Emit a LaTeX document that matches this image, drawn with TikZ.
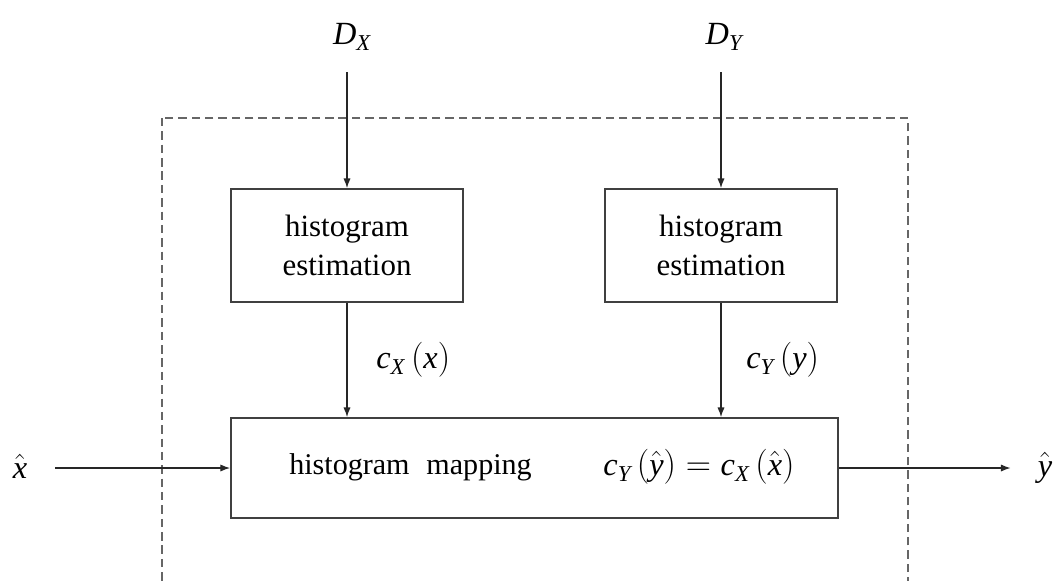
\documentclass[tikz,border=0pt]{standalone}
\usepackage{fontspec}
\setmainfont{Liberation Serif}
\usetikzlibrary{arrows.meta,positioning,calc}
\tikzset{
  block/.style={rectangle, draw=black!75, line width=1.3pt, align=center,
    font=\fontsize{22}{28}\selectfont, inner sep=0pt},
  estbox/.style={block, minimum width=5.8cm, minimum height=2.825cm},
  lbl/.style={font=\fontsize{23}{28}\selectfont, inner sep=0pt},
  sig/.style={-{Latex[length=2.4mm,width=1.8mm]}, line width=0.8pt, draw=black!85},
  frame/.style={dash pattern=on 6pt off 3.5pt, line width=1.3pt, draw=black!60},
}
\newcommand{\itl}[1]{\mathit{#1}}

\begin{document}
\begin{tikzpicture}[x=0.025cm, y=-0.025cm]
  \useasboundingbox (0,0) rectangle (1057,580);
  \draw[frame] (162,118) rectangle (908,620);
  \node[estbox] (estx) at (347,245.5) {histogram\\estimation};
  \node[estbox] (esty) at (721,245.5) {histogram\\estimation};
  \node[block, minimum width=15.175cm, minimum height=2.5cm] (map) at (534.5,468) {};
  \node[lbl, font=\fontsize{21.4}{26}\selectfont] (maptxt) at (410.5,467)
    {histogram\hspace{0.42cm}mapping};
  \node[lbl] (mapeq) at (699,467)
    {$\itl{c}_{\itl{Y}}\,(\hat{\itl{y}})=\itl{c}_{\itl{X}}\,(\hat{\itl{x}})$};
  \node[lbl] (dx) at (352,37) {$\itl{D}_{\itl{X}}$};
  \node[lbl] (dy) at (724,37) {$\itl{D}_{\itl{Y}}$};
  \node[lbl] (xin) at (20,466) {$\hat{\itl{x}}$};
  \node[lbl] (yout) at (1045,468) {$\hat{\itl{y}}$};
  % inputs from above
  \draw[sig] (estx.north |- dx.south) ++(0,22) -- (estx.north);
  \draw[sig] (esty.north |- dy.south) ++(0,22) -- (esty.north);
  % cumulative histograms
  \draw[sig] (estx.south) -- (estx.south |- map.north)
    node[lbl, midway, right=0.72cm] (cx) {$\itl{c}_{\itl{X}}\,(\itl{x})$};
  \draw[sig] (esty.south) -- (esty.south |- map.north)
    node[lbl, midway, right=0.62cm] (cy) {$\itl{c}_{\itl{Y}}\,(\itl{y})$};
  % signal in and out
  \draw[sig] (map.west -| xin.east) ++(28,0) -- (map.west);
  \draw[sig] (map.east) -- ($(map.east -| yout.west)+(-27,0)$);
\end{tikzpicture}
\end{document}
